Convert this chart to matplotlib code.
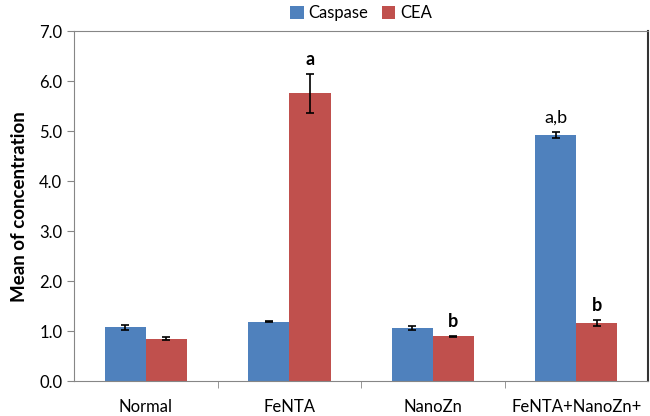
import matplotlib.pyplot as plt
import numpy as np

plt.rcParams['font.family'] = ['Lato', 'DejaVu Sans']

groups = ["Normal", "FeNTA", "NanoZn", "FeNTA+NanoZn+"]
caspase = [1.08, 1.19, 1.07, 4.93]
caspase_err = [0.05, 0.01, 0.04, 0.06]
cea = [0.85, 5.76, 0.90, 1.17]
cea_err = [0.03, 0.39, 0.01, 0.06]

# significance letters: (group index, series, text, bold)
marks = [(1, "cea", "a", True), (2, "cea", "b", True),
         (3, "caspase", "a,b", False), (3, "cea", "b", True)]

fig = plt.figure(figsize=(6.5, 4.16), dpi=100)
ax = fig.add_axes([0.114, 0.084, 0.883, 0.841])

x = np.arange(len(groups))
w = 0.287
ekw = dict(ecolor='black', capsize=3, elinewidth=1.2, capthick=1.2)
ax.bar(x - w / 2, caspase, w, yerr=caspase_err, color='#4F81BD',
       label='Caspase', error_kw=ekw)
ax.bar(x + w / 2, cea, w, yerr=cea_err, color='#C0504D',
       label='CEA', error_kw=ekw)

for i, s, txt, bold in marks:
    if s == "cea":
        xx, yy = x[i] + w / 2, cea[i] + cea_err[i]
    else:
        xx, yy = x[i] - w / 2, caspase[i] + caspase_err[i]
    ax.text(xx, yy + 0.12, txt, ha='center', va='bottom', fontsize=13,
            fontweight='bold' if bold else 'normal')

ax.set_xlim(-0.5, 3.5)
ax.set_ylim(0, 7)
ax.set_yticks(np.arange(0, 7.01, 1.0))
ax.set_yticklabels([f"{v:.1f}" for v in np.arange(0, 7.01, 1.0)], fontsize=12)
ax.set_xticks(x)
ax.set_xticklabels(groups, fontsize=12)
ax.set_xticks([0.5, 1.5, 2.5], minor=True)
ax.tick_params(axis='x', which='major', length=0, pad=13)
ax.tick_params(axis='x', which='minor', length=5, color='#868686')
ax.tick_params(axis='y', length=5, color='#868686')
ax.set_ylabel("Mean of concentration", fontsize=13.5, fontweight='bold', labelpad=8)

for side in ['left', 'bottom', 'top']:
    ax.spines[side].set_color('#868686')
ax.spines['right'].set_color('#333333')
ax.spines['right'].set_linewidth(1.5)

ax.legend(loc='lower center', bbox_to_anchor=(0.5, 1.0), ncol=2, frameon=False,
          fontsize=12, handlelength=0.8, handleheight=0.8, handletextpad=0.3,
          columnspacing=0.8, borderaxespad=0.2)

fig.savefig("out.png", dpi=100)
